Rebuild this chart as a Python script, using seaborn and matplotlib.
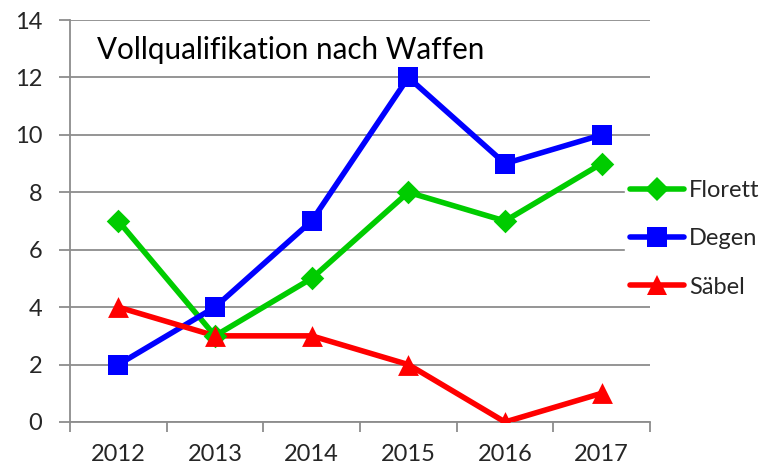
import pandas as pd
import matplotlib.pyplot as plt
import seaborn as sns

# Data
years = ["2012", "2013", "2014", "2015", "2016", "2017"]
florett = [7, 3, 5, 8, 7, 9]
degen = [2, 4, 7, 12, 9, 10]
saebel = [4, 3, 3, 2, 0, 1]

series_names = ["Florett", "Degen", "Säbel"]
colors = {"Florett": "#00cc00", "Degen": "#0000ff", "Säbel": "#ff0000"}
markers = {"Florett": "D", "Degen": "s", "Säbel": "^"}
msizes = {"Florett": 12, "Degen": 14, "Säbel": 15}

rows = []
for name, vals in zip(series_names, [florett, degen, saebel]):
    for i, v in enumerate(vals):
        rows.append({"pos": i, "Jahr": years[i], "Anzahl": v, "Waffe": name})
df = pd.DataFrame(rows)

sns.set_style("white")
plt.rcParams["font.family"] = ["Lato", "DejaVu Sans"]

fig = plt.figure(figsize=(7.66, 4.68), dpi=100)
ax = fig.add_axes([70 / 766, 1 - 422 / 468, 580 / 766, 402 / 468])

sns.lineplot(data=df, x="pos", y="Anzahl", hue="Waffe",
             palette=colors, dashes=False, linewidth=4,
             ax=ax, legend=False, zorder=3)
# markers per series (different sizes as in the original)
for name in series_names:
    sub = df[df["Waffe"] == name]
    sns.scatterplot(data=sub, x="pos", y="Anzahl", color=colors[name],
                    marker=markers[name], s=msizes[name] ** 2, linewidth=0,
                    ax=ax, legend=False, zorder=4)

ax.set_xlim(-0.5, len(years) - 0.5)
ax.set_ylim(0, 14)
ax.set_yticks(range(0, 15, 2))
ax.set_xticks(range(len(years)))
ax.set_xticklabels(years)
ax.set_xticks([i - 0.5 for i in range(len(years) + 1)], minor=True)
ax.grid(axis="y", color="#8c8c8c", linewidth=1.3, zorder=0)
ax.grid(axis="x", visible=False)
ax.set_xlabel("")
ax.set_ylabel("")

for s in ["top", "right"]:
    ax.spines[s].set_visible(False)
for s in ["left", "bottom"]:
    ax.spines[s].set_color("#8c8c8c")
    ax.spines[s].set_linewidth(1.3)

ax.tick_params(axis="y", which="major", length=8, width=1.3, color="#8c8c8c",
               labelsize=17, pad=12, left=True)
ax.tick_params(axis="x", which="major", length=0, labelsize=17, pad=16)
ax.tick_params(axis="x", which="minor", length=7, width=1.3, color="#8c8c8c", bottom=True)

ax.text(0.046, 0.925, "Vollqualifikation nach Waffen", transform=ax.transAxes,
        fontsize=21.3, ha="left", va="center", color="black")

handles = [plt.Line2D([], [], color=colors[n], marker=markers[n], linewidth=4,
                      markersize=msizes[n], markeredgewidth=0) for n in series_names]
leg = fig.legend(handles, series_names, loc="center left",
                 bbox_to_anchor=(625 / 766, 1 - 239 / 468), frameon=True,
                 fontsize=17, handlelength=2.3, handletextpad=0.2,
                 labelspacing=1.15, borderpad=0.2, borderaxespad=0)
leg.get_frame().set_edgecolor("white")
leg.get_frame().set_facecolor("white")
leg.get_frame().set_alpha(1)
leg.set_zorder(5)

fig.savefig("out.png", dpi=100)
